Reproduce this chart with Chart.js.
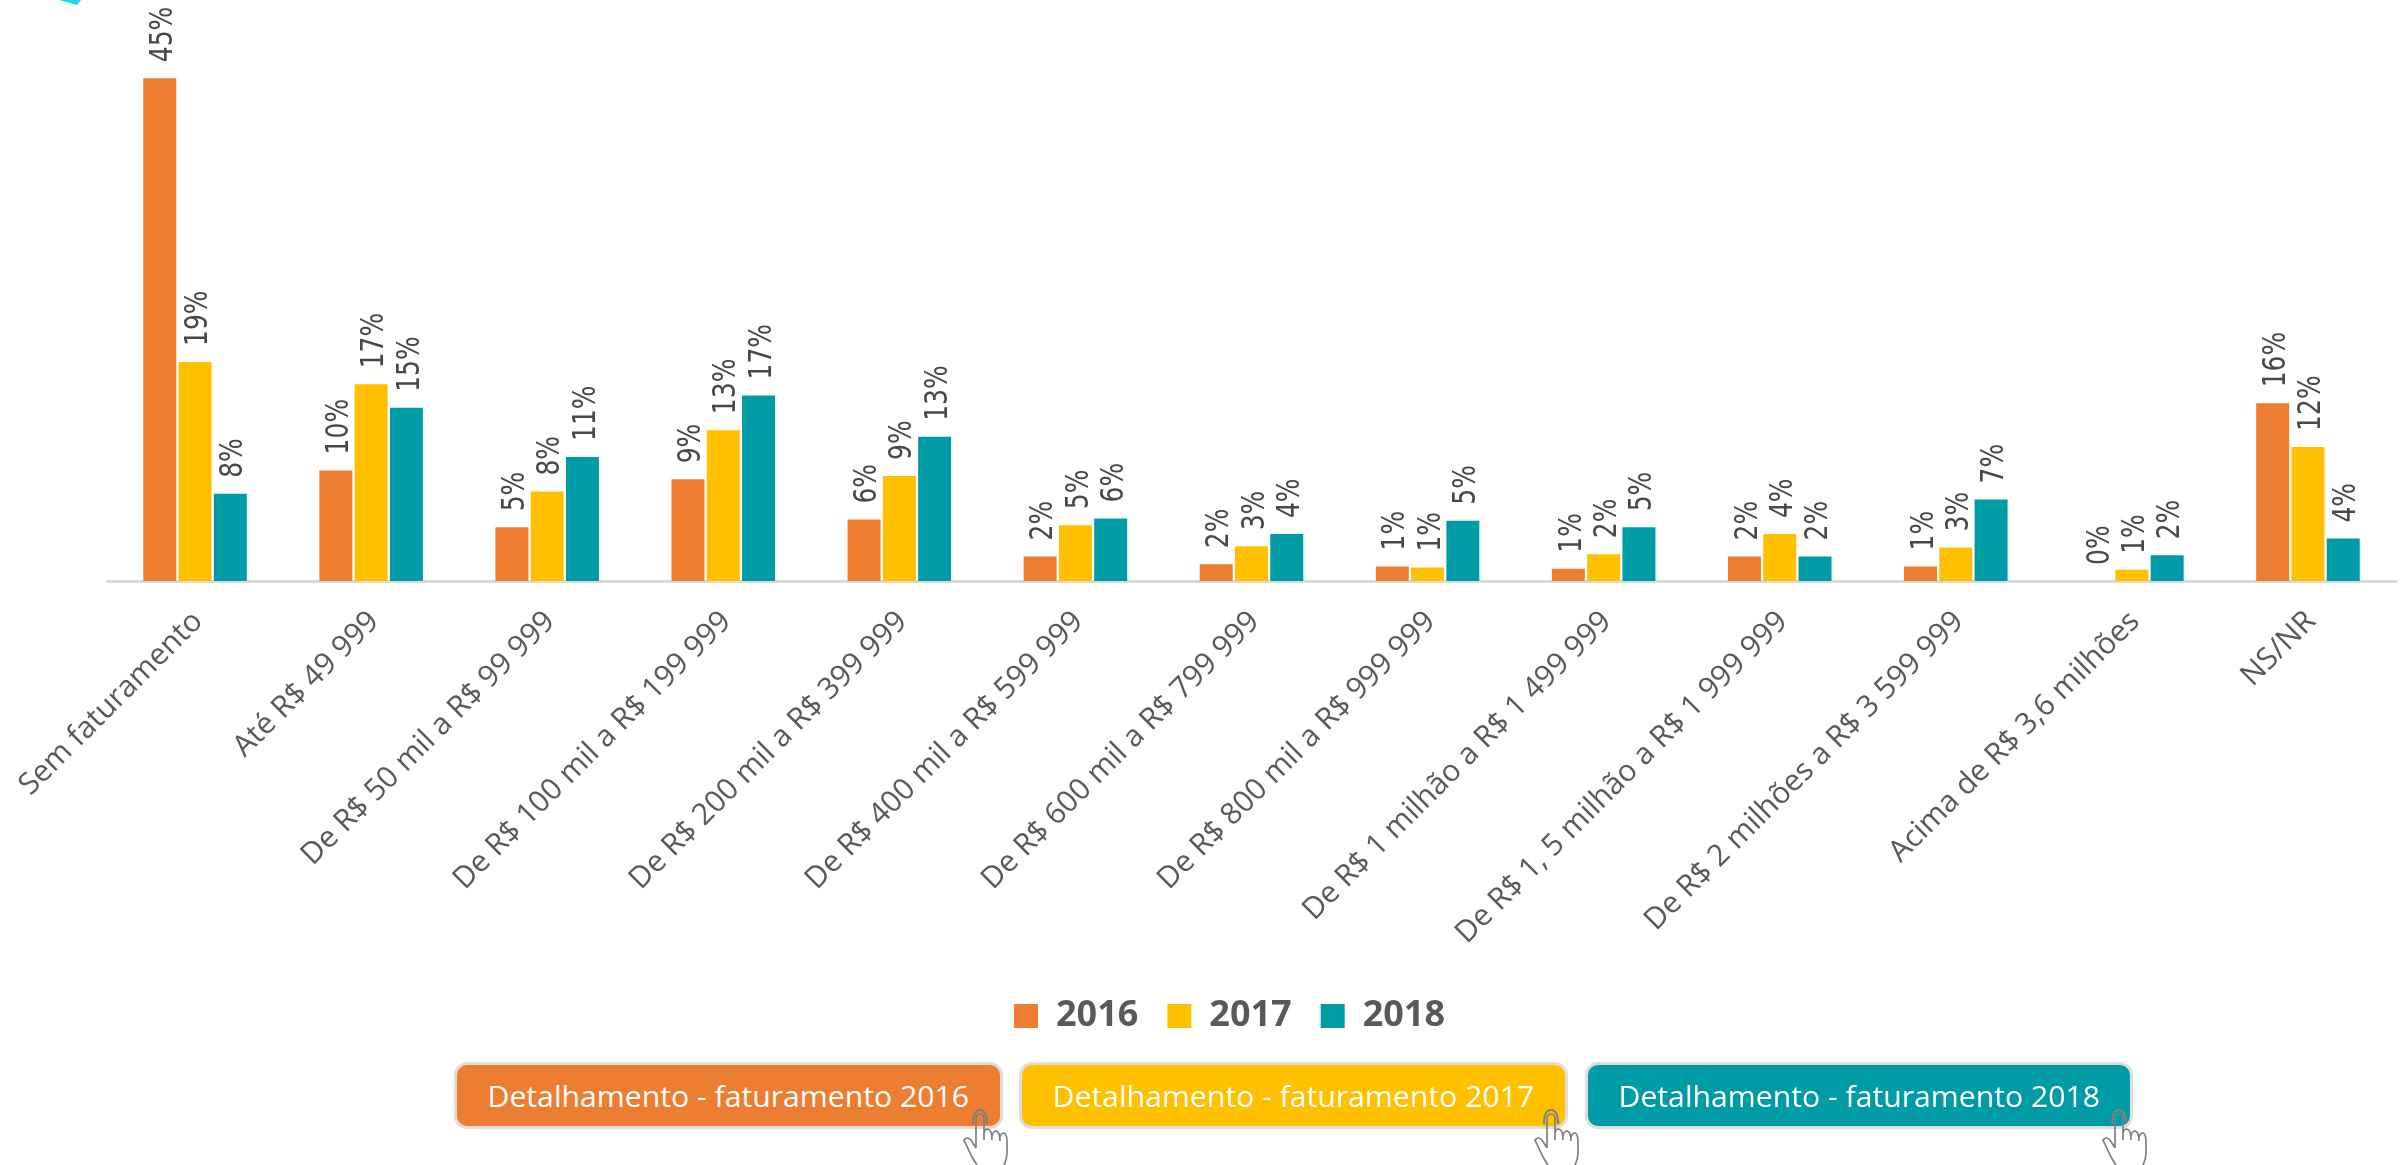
<!DOCTYPE html>
<html lang="pt">
<head>
<meta charset="utf-8">
<title>Faturamento</title>
<script src="https://cdn.jsdelivr.net/npm/chart.js@4/dist/chart.umd.min.js"></script>
<style>
html,body{margin:0;padding:0;background:#fff;width:2400px;height:1165px;overflow:hidden}
#wrap{position:relative;width:2400px;height:1165px}
canvas{position:absolute;left:0;top:0}
.btn{position:absolute;top:1062px;height:67px;box-sizing:border-box;border:3px solid #dedede;border-radius:13px;color:#fff;
font:30px "Open Sans",sans-serif;display:flex;align-items:center;justify-content:center;white-space:nowrap;overflow:hidden}
.btn span{display:inline-block;transform-origin:center}
svg.ov{position:absolute;left:0;top:0;pointer-events:none}
</style>
</head>
<body>
<div id="wrap">
<canvas id="c" width="2400" height="1165"></canvas>
<div class="btn" style="left:454px;width:549px;background:#ED7D31"><span>Detalhamento - faturamento 2016</span></div>
<div class="btn" style="left:1019px;width:549px;background:#FFC000"><span>Detalhamento - faturamento 2017</span></div>
<div class="btn" style="left:1585px;width:548px;background:#009CA6"><span>Detalhamento - faturamento 2018</span></div>
<svg class="ov" width="2400" height="1165" id="ov">
<polygon points="59,0 81,0 77,5" fill="#19DCE8"/>
</svg>
</div>
<script>
const categories = ["Sem faturamento","Até R$ 49 999","De R$ 50 mil a R$ 99 999","De R$ 100 mil a R$ 199 999","De R$ 200 mil a R$ 399 999","De R$ 400 mil a R$ 599 999","De R$ 600 mil a R$ 799 999","De R$ 800 mil a R$ 999 999","De R$ 1 milhão a R$ 1 499 999","De R$ 1, 5 milhão a R$ 1 999 999","De R$ 2 milhões a R$ 3 599 999","Acima de R$ 3,6 milhões","NS/NR"];
const seriesNames = ["2016","2017","2018"];
const values2016 = [45.0,9.9,4.8,9.1,5.5,2.2,1.5,1.3,1.1,2.2,1.3,0,15.9];
const values2017 = [19.6,17.6,8.0,13.5,9.4,5.0,3.1,1.2,2.4,4.2,3.0,1.0,12.0];
const values2018 = [7.8,15.5,11.1,16.6,12.9,5.6,4.2,5.4,4.8,2.2,7.3,2.3,3.8];
const labels2016 = ["45%","10%","5%","9%","6%","2%","2%","1%","1%","2%","1%","0%","16%"];
const labels2017 = ["19%","17%","8%","13%","9%","5%","3%","1%","2%","4%","3%","1%","12%"];
const labels2018 = ["8%","15%","11%","17%","13%","6%","4%","5%","5%","2%","7%","2%","4%"];
const colors = ["#ED7D31","#FFC000","#009CA6"];
const allLabels = [labels2016,labels2017,labels2018];

const barLabels = {
  id:"barLabels",
  afterDatasetsDraw(chart){
    const ctx = chart.ctx;
    chart.data.datasets.forEach((ds,i)=>{
      chart.getDatasetMeta(i).data.forEach((bar,j)=>{
        ctx.save();
        ctx.translate(bar.x+4,bar.y-16);
        ctx.rotate(-Math.PI/2);
        ctx.scale(1,1.25);
        ctx.font='25px "DejaVu Sans"';
        ctx.fillStyle="#484848";
        ctx.textAlign="left";
        ctx.textBaseline="middle";
        ctx.fillText(allLabels[i][j],0,0);
        ctx.restore();
      });
    });
  }
};
const legendShift = {
  id:"legendShift",
  afterLayout(chart){
    const l = chart.legend;
    const dx = -22, dy = -121;
    l.left += dx; l.right += dx;
    l.top += dy; l.bottom += dy;
  }
};

new Chart(document.getElementById("c"),{
  type:"bar",
  data:{labels:categories,datasets:[
    {label:seriesNames[0],data:values2016,backgroundColor:colors[0]},
    {label:seriesNames[1],data:values2017,backgroundColor:colors[1]},
    {label:seriesNames[2],data:values2018,backgroundColor:colors[2]}
  ]},
  plugins:[barLabels,legendShift],
  options:{
    responsive:false,animation:false,devicePixelRatio:1,
    layout:{padding:{left:107,right:4,top:0,bottom:0}},
    datasets:{bar:{categoryPercentage:0.601,barPercentage:0.935}},
    plugins:{
      tooltip:{enabled:false},
      legend:{display:true,position:"bottom",align:"center",
        labels:{boxWidth:24,boxHeight:24,padding:29,color:"#595959",font:{family:'"Open Sans"',size:36,weight:"bold"}}}
    },
    scales:{
      x:{
        grid:{display:true,drawOnChartArea:false,drawTicks:false},
        border:{display:true,color:"#D9D9D9",width:3},
        ticks:{autoSkip:false,minRotation:45,maxRotation:45,padding:23,labelOffset:3,color:"#595959",font:{family:'"Open Sans"',size:30}},
        afterFit(s){s.height=509;s.paddingLeft=0;s.paddingRight=0;}
      },
      y:{display:false,min:0,max:52}
    }
  }
});

// fit button captions to the reference width
document.querySelectorAll(".btn span").forEach(s=>{
  s.style.transform="scaleX("+(482/s.offsetWidth)+")";
});
// pointer-hand icons
const ov=document.getElementById("ov");
[950,1521,2089].forEach(x0=>{
  const g=document.createElementNS("http://www.w3.org/2000/svg","g");
  g.setAttribute("transform","translate("+x0+",1090)");
  g.setAttribute("fill","none");g.setAttribute("stroke","#7F7F7F");g.setAttribute("stroke-width","1.7");
  g.innerHTML='<path d="M26 58 L26 29 Q26 24 30 24 Q34 24 34 29 L34 50 M34 44 Q34 39 38 39 Q42 40 42 50 M42 46 Q43 41 46 41 Q50 42 50 51 M50 47 Q51 43 54 43 Q57 44 57 52 L57 63 Q57 69 54 75 M26 58 L21 50 Q17 46 14 50 L22 67 L27 75"/>'+
  '<path d="M23 34 Q23 20 30 20 Q37 20 37 34" stroke-width="2"/>';
  ov.appendChild(g);
});
</script>
</body>
</html>
